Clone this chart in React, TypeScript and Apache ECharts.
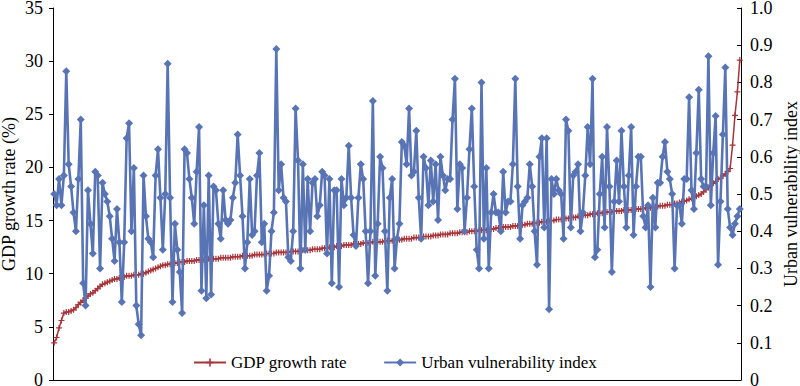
import React, { useEffect, useRef } from "react";
import * as echarts from "echarts";

// GDP growth rate (%), cities sorted ascending (left axis)
const gdpGrowth: number[] = [
  3.5, 4.0, 4.9, 5.6, 6.3, 6.4, 6.4, 6.5, 6.6, 6.8,
  7.1, 7.3, 7.5, 7.7, 7.9, 8.1, 8.2, 8.4, 8.6, 8.8,
  9.0, 9.1, 9.2, 9.3, 9.4, 9.5, 9.5, 9.6, 9.7, 9.7,
  9.8, 9.8, 9.8, 9.9, 9.9, 9.9, 10.0, 10.0, 10.1, 10.2,
  10.3, 10.4, 10.5, 10.6, 10.7, 10.8, 10.8, 10.9, 10.9, 11.0,
  11.0, 11.0, 11.1, 11.1, 11.1, 11.2, 11.2, 11.2, 11.2, 11.3,
  11.3, 11.3, 11.3, 11.3, 11.4, 11.4, 11.4, 11.4, 11.4, 11.5,
  11.5, 11.5, 11.5, 11.5, 11.6, 11.6, 11.6, 11.6, 11.7, 11.7,
  11.7, 11.7, 11.7, 11.8, 11.8, 11.8, 11.8, 11.8, 11.9, 11.9,
  11.9, 11.9, 12.0, 12.0, 12.0, 12.0, 12.0, 12.0, 12.1, 12.1,
  12.1, 12.1, 12.1, 12.2, 12.2, 12.2, 12.2, 12.3, 12.3, 12.3,
  12.3, 12.4, 12.4, 12.4, 12.5, 12.5, 12.5, 12.6, 12.6, 12.6,
  12.7, 12.7, 12.7, 12.7, 12.8, 12.8, 12.8, 12.8, 12.9, 12.9,
  12.9, 12.9, 13.0, 13.0, 13.0, 13.0, 13.0, 13.1, 13.1, 13.1,
  13.1, 13.2, 13.2, 13.2, 13.2, 13.3, 13.3, 13.3, 13.3, 13.4,
  13.4, 13.4, 13.4, 13.5, 13.5, 13.5, 13.5, 13.6, 13.6, 13.6,
  13.7, 13.7, 13.7, 13.7, 13.8, 13.8, 13.8, 13.8, 13.9, 13.9,
  13.9, 13.9, 14.0, 14.0, 14.0, 14.0, 14.1, 14.1, 14.1, 14.1,
  14.2, 14.2, 14.2, 14.3, 14.3, 14.3, 14.4, 14.4, 14.4, 14.4,
  14.5, 14.5, 14.5, 14.6, 14.6, 14.6, 14.7, 14.7, 14.7, 14.8,
  14.8, 14.8, 14.9, 14.9, 14.9, 15.0, 15.0, 15.0, 15.1, 15.1,
  15.1, 15.2, 15.2, 15.2, 15.3, 15.3, 15.3, 15.4, 15.4, 15.5,
  15.5, 15.5, 15.6, 15.6, 15.6, 15.7, 15.7, 15.7, 15.8, 15.8,
  15.8, 15.8, 15.9, 15.9, 15.9, 15.9, 16.0, 16.0, 16.0, 16.0,
  16.0, 16.1, 16.1, 16.1, 16.1, 16.2, 16.2, 16.2, 16.3, 16.3,
  16.3, 16.4, 16.4, 16.4, 16.5, 16.5, 16.5, 16.6, 16.6, 16.7,
  16.8, 16.8, 16.9, 17.0, 17.1, 17.2, 17.3, 17.4, 17.5, 17.7,
  17.9, 18.1, 18.3, 18.5, 18.7, 18.9, 19.0, 19.2, 19.4, 19.6,
  19.9, 22.1, 24.9, 27.1, 30.1,
];

// Urban vulnerability index, same city order (right axis)
const vulnerability: number[] = [
  0.50, 0.47, 0.54, 0.47, 0.55, 0.83, 0.58, 0.52, 0.45, 0.40,
  0.54, 0.70, 0.26, 0.20, 0.51, 0.42, 0.34, 0.56, 0.55, 0.30,
  0.53, 0.50, 0.48, 0.44, 0.38, 0.32, 0.46, 0.37, 0.21, 0.37,
  0.65, 0.69, 0.40, 0.57, 0.20, 0.15, 0.12, 0.55, 0.44, 0.38,
  0.37, 0.33,
  0.55, 0.62, 0.49, 0.35, 0.50, 0.85, 0.49, 0.21, 0.42, 0.35,
  0.29, 0.18, 0.62, 0.61, 0.54, 0.49, 0.42, 0.56, 0.68, 0.24,
  0.47, 0.22, 0.55, 0.23, 0.52, 0.51, 0.42, 0.38, 0.51, 0.43,
  0.42, 0.43, 0.49, 0.53, 0.66, 0.55, 0.44, 0.30, 0.37, 0.54,
  0.39,
  0.40, 0.55, 0.61, 0.37, 0.42, 0.24, 0.28, 0.40, 0.45, 0.89,
  0.51, 0.58, 0.49, 0.48, 0.33, 0.32, 0.40, 0.73, 0.59, 0.30,
  0.58, 0.35, 0.54, 0.40, 0.53, 0.54, 0.44, 0.47, 0.56, 0.55,
  0.34, 0.54, 0.26, 0.51, 0.51, 0.25, 0.54, 0.47, 0.49, 0.63,
  0.49, 0.39, 0.36, 0.49, 0.58, 0.54, 0.40, 0.26, 0.40, 0.75,
  0.28, 0.42, 0.60, 0.57, 0.40, 0.24, 0.49, 0.54, 0.30, 0.38,
  0.42, 0.64, 0.63, 0.58, 0.73, 0.55, 0.56, 0.67, 0.49, 0.38,
  0.60, 0.57, 0.47, 0.59, 0.48, 0.58, 0.43, 0.60, 0.55, 0.51,
  0.54, 0.54, 0.70, 0.81,
  0.46, 0.58, 0.57, 0.40, 0.49, 0.62, 0.73, 0.52, 0.35, 0.30,
  0.80, 0.38, 0.57, 0.30, 0.45, 0.50, 0.45, 0.45, 0.40, 0.56,
  0.45, 0.48, 0.48, 0.58, 0.81, 0.52, 0.38, 0.47, 0.48, 0.49,
  0.58, 0.52, 0.40, 0.31, 0.60, 0.65, 0.41, 0.65, 0.19,
  0.54, 0.50, 0.54, 0.51, 0.50, 0.38, 0.70, 0.67, 0.41, 0.55,
  0.56, 0.58, 0.40, 0.45, 0.55, 0.68, 0.58, 0.81, 0.33, 0.35,
  0.50, 0.60, 0.41, 0.68, 0.52, 0.29, 0.48, 0.59, 0.48, 0.67,
  0.52, 0.41, 0.55, 0.68, 0.39, 0.52, 0.60, 0.60, 0.44, 0.41,
  0.47, 0.25,
  0.49, 0.41, 0.53, 0.53, 0.60, 0.64, 0.56, 0.54, 0.50, 0.30,
  0.47, 0.47, 0.42, 0.54, 0.54, 0.76, 0.51, 0.46, 0.61, 0.78,
  0.54, 0.52, 0.52, 0.87, 0.47, 0.61, 0.71, 0.31, 0.48, 0.66,
  0.84, 0.46, 0.41, 0.39, 0.42, 0.44, 0.46,
];

const cities: string[] = gdpGrowth.map((_, i) => `City ${i + 1}`);

const seriesNames = ["GDP growth rate", "Urban vulnerability index"];
const leftAxisName = "GDP growth rate (%)";
const rightAxisName = "Urban vulnerability index";

const RED = "#A7353A";
const BLUE = "#5874B5";
const FONT = "'Liberation Serif', 'Times New Roman', serif";
const PLUS = "path://M4,0H6V4H10V6H6V10H4V6H0V4H4Z";

export default function App() {
  const ref = useRef<HTMLDivElement>(null);

  useEffect(() => {
    if (!ref.current) return;
    const chart = echarts.init(ref.current, undefined, { renderer: "svg" });
    const axisText = { color: "#000", fontFamily: FONT, fontSize: 18 };
    chart.setOption({
      animation: false,
      backgroundColor: "#fff",
      textStyle: { fontFamily: FONT },
      grid: {
        left: 53,
        right: 59,
        top: 8,
        bottom: 6,
        containLabel: false,
        outerBoundsMode: "none",
      },
      legend: {
        data: seriesNames,
        left: 193,
        top: 354,
        padding: 0,
        itemWidth: 32,
        itemHeight: 10,
        itemGap: 36,
        textStyle: { color: "#000", fontFamily: FONT, fontSize: 17 },
      },
      xAxis: {
        type: "category",
        data: cities,
        boundaryGap: true,
        axisLine: { show: true, lineStyle: { color: "#000", width: 1 } },
        axisTick: { show: false },
        axisLabel: { show: false },
        splitLine: { show: false },
      },
      yAxis: [
        {
          type: "value",
          min: 0,
          max: 35,
          interval: 5,
          name: leftAxisName,
          nameLocation: "middle",
          nameGap: 35,
          nameMoveOverlap: false,
          nameRotate: 90,
          nameTextStyle: { ...axisText, fontSize: 18 },
          axisLine: { show: true, lineStyle: { color: "#000", width: 1 } },
          axisTick: { show: true, inside: false, length: 4, lineStyle: { color: "#000" } },
          axisLabel: { ...axisText, margin: 10 },
          splitLine: { show: false },
        },
        {
          type: "value",
          min: 0,
          max: 1,
          interval: 0.1,
          position: "right",
          name: rightAxisName,
          nameLocation: "middle",
          nameGap: 41,
          nameMoveOverlap: false,
          nameRotate: 90,
          nameTextStyle: { ...axisText, fontSize: 18 },
          axisLine: { show: true, lineStyle: { color: "#000", width: 1 } },
          axisTick: { show: true, inside: true, length: 4, lineStyle: { color: "#000" } },
          axisLabel: {
            ...axisText,
            margin: 9,
            formatter: (v: number) => (v === 0 ? "0" : v.toFixed(1)),
          },
          splitLine: { show: false },
        },
      ],
      series: [
        {
          name: seriesNames[0],
          type: "line",
          data: gdpGrowth,
          yAxisIndex: 0,
          symbol: PLUS,
          symbolSize: 6,
          showAllSymbol: true,
          lineStyle: { color: RED, width: 1.5 },
          itemStyle: { color: RED },
          z: 2,
        },
        {
          name: seriesNames[1],
          type: "line",
          data: vulnerability,
          yAxisIndex: 1,
          symbol: "diamond",
          symbolSize: 8,
          showAllSymbol: true,
          lineStyle: { color: BLUE, width: 2.6 },
          itemStyle: { color: BLUE },
          z: 3,
        },
      ],
    });
    return () => chart.dispose();
  }, []);

  return (
    <div
      ref={ref}
      style={{ position: "fixed", left: 0, top: 0, width: 800, height: 386, background: "#fff" }}
    />
  );
}
